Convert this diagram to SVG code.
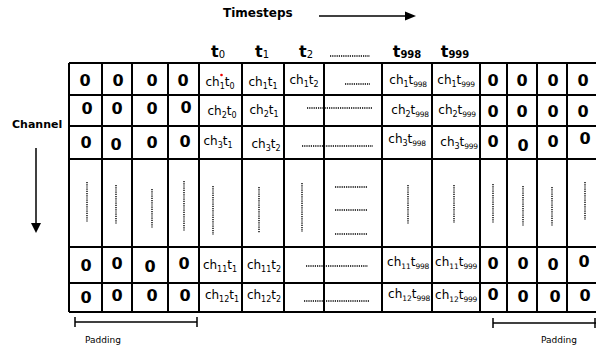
<svg xmlns="http://www.w3.org/2000/svg" width="596" height="350" viewBox="0 0 596 350">
<defs>
<style>
.grid{stroke:#000;stroke-width:2;fill:none}
.z{font-family:"DejaVu Sans",Verdana,sans-serif;font-weight:bold;font-size:16px;text-anchor:middle;fill:#000}
.c{font-family:"DejaVu Sans",Verdana,sans-serif;font-size:12px;text-anchor:middle;fill:#000}
.s3{font-size:7.5px;letter-spacing:-0.3px}
.h{font-family:"DejaVu Sans",Verdana,sans-serif;font-size:16px;font-weight:bold;text-anchor:middle;fill:#000}
.lbl{font-family:"DejaVu Sans",Verdana,sans-serif;font-weight:bold;fill:#000}
.pad{font-family:"DejaVu Sans",Verdana,sans-serif;font-size:9px;fill:#000}
.dot{stroke:#000;stroke-width:1.4;stroke-dasharray:1.2 1;fill:none}
.ln{stroke:#000;stroke-width:1.5;fill:none}
</style>
</defs>
<rect width="596" height="350" fill="#fff"/>

<g id="labels">
<text class="lbl" x="223" y="17" font-size="12">Timesteps</text>
<text class="lbl" x="12" y="128" font-size="11">Channel</text>
<text class="pad" x="85" y="343">Padding</text>
<text class="pad" x="541" y="343">Padding</text>
</g>

<g id="connectors">
<line class="ln" x1="319" y1="16" x2="406" y2="16"/>
<polygon points="405,11.5 416,16 405,20.5" fill="#000"/>
<line class="ln" x1="36" y1="148" x2="36" y2="224"/>
<polygon points="31,223 41,223 36,233" fill="#000"/>
<line class="ln" x1="75" y1="322" x2="197" y2="322"/>
<line class="ln" x1="75" y1="317" x2="75" y2="327"/>
<line class="ln" x1="197" y1="317" x2="197" y2="327"/>
<line class="ln" x1="493" y1="323" x2="596" y2="323"/>
<line class="ln" x1="493" y1="318" x2="493" y2="328"/>
<line class="ln" x1="595" y1="318" x2="595" y2="328"/>
</g>

<g id="headers">
<text class="h" x="218" y="57">t<tspan font-size="10" font-weight="normal" dy="1">0</tspan></text>
<text class="h" x="262" y="57">t<tspan font-size="10" font-weight="normal" dy="1">1</tspan></text>
<text class="h" x="306" y="57">t<tspan font-size="10" font-weight="normal" dy="1">2</tspan></text>
<line class="dot" x1="330" y1="56" x2="370" y2="56"/>
<text class="h" x="407" y="57">t<tspan font-size="10" dy="1">998</tspan></text>
<text class="h" x="455" y="57">t<tspan font-size="10" dy="1">999</tspan></text>
</g>

<g id="grid">
<path class="grid" d="M69,63 H598 M69,95 H598 M69,126 H598 M69,159 H598 M69,247 H598 M69,283 H598 M69,312 H598"/>
<path class="grid" d="M69,63 V312 M102,63 V312 M132,63 V312 M168,63 V312 M199,63 V312 M242,63 V312 M284,63 V312 M324,63 V312 M382,63 V312 M432,63 V312 M480,63 V312 M507,63 V312 M537,63 V312 M567,63 V312"/>
</g>

<g id="row1">
<text class="z" x="85" y="86">0</text><text class="z" x="118" y="86">0</text><text class="z" x="152" y="86">0</text><text class="z" x="183" y="86">0</text>
<text class="c" x="220" y="86">ch<tspan font-size="8" dy="3">1</tspan><tspan dy="-3">t</tspan><tspan font-size="8" dy="3">0</tspan></text>
<circle cx="221.5" cy="75" r="1.3" fill="#e00"/>
<text class="c" x="263" y="86">ch<tspan font-size="8" dy="3">1</tspan><tspan dy="-3">t</tspan><tspan font-size="8" dy="3">1</tspan></text>
<text class="c" x="304" y="84">ch<tspan font-size="8" dy="3">1</tspan><tspan dy="-3">t</tspan><tspan font-size="8" dy="3">2</tspan></text>
<line class="dot" x1="345" y1="84" x2="370" y2="84"/>
<text class="c" x="408" y="84">ch<tspan font-size="8" dy="3">1</tspan><tspan dy="-3">t</tspan><tspan class="s3" dy="3">998</tspan></text>
<text class="c" x="456" y="84">ch<tspan font-size="8" dy="3">1</tspan><tspan dy="-3">t</tspan><tspan class="s3" dy="3">999</tspan></text>
<text class="z" x="493" y="86">0</text><text class="z" x="522" y="86">0</text><text class="z" x="553" y="86">0</text><text class="z" x="583" y="86">0</text>
</g>

<g id="row2">
<text class="z" x="87" y="114">0</text><text class="z" x="117" y="114">0</text><text class="z" x="152" y="114">0</text><text class="z" x="186" y="113">0</text>
<text class="c" x="222" y="115">ch<tspan font-size="8" dy="3">2</tspan><tspan dy="-3">t</tspan><tspan font-size="8" dy="3">0</tspan></text>
<text class="c" x="264" y="114">ch<tspan font-size="8" dy="3">2</tspan><tspan dy="-3">t</tspan><tspan font-size="8" dy="3">1</tspan></text>
<line class="dot" x1="307" y1="108" x2="372" y2="108"/>
<text class="c" x="410" y="114">ch<tspan font-size="8" dy="3">2</tspan><tspan dy="-3">t</tspan><tspan class="s3" dy="3">998</tspan></text>
<text class="c" x="457" y="114">ch<tspan font-size="8" dy="3">2</tspan><tspan dy="-3">t</tspan><tspan class="s3" dy="3">999</tspan></text>
<text class="z" x="493" y="117">0</text><text class="z" x="522" y="117">0</text><text class="z" x="553" y="117">0</text><text class="z" x="583" y="117">0</text>
</g>

<g id="row3">
<text class="z" x="86" y="148">0</text><text class="z" x="116" y="150">0</text><text class="z" x="152" y="148">0</text><text class="z" x="185" y="147">0</text>
<text class="c" x="218" y="145">ch<tspan font-size="8" dy="3">3</tspan><tspan dy="-3">t</tspan><tspan font-size="8" dy="3">1</tspan></text>
<text class="c" x="266" y="148">ch<tspan font-size="8" dy="3">3</tspan><tspan dy="-3">t</tspan><tspan font-size="8" dy="3">2</tspan></text>
<line class="dot" x1="302" y1="146" x2="373" y2="146"/>
<text class="c" x="407" y="143">ch<tspan font-size="8" dy="3">3</tspan><tspan dy="-3">t</tspan><tspan class="s3" dy="3">998</tspan></text>
<text class="c" x="459" y="146">ch<tspan font-size="8" dy="3">3</tspan><tspan dy="-3">t</tspan><tspan class="s3" dy="3">999</tspan></text>
<text class="z" x="493" y="147">0</text><text class="z" x="523" y="151">0</text><text class="z" x="553" y="147">0</text><text class="z" x="585" y="144">0</text>
</g>

<g id="row4">
<path class="dot" d="M87,182 V222 M116,185 V224 M152,189 V228 M184,181 V231 M213,186 V235 M259,187 V233 M302,183 V232 M408,185 V224 M454,185 V223 M493,184 V223 M523,186 V226 M552,187 V226 M585,182 V220"/>
<path class="dot" d="M335,187 H368 M335,210 H368 M335,234 H368"/>
</g>

<g id="row5">
<text class="z" x="86" y="271">0</text><text class="z" x="117" y="269">0</text><text class="z" x="150" y="272">0</text><text class="z" x="184" y="269">0</text>
<text class="c" x="220" y="269">ch<tspan font-size="8" dy="3">11</tspan><tspan dy="-3">t</tspan><tspan font-size="8" dy="3">1</tspan></text>
<text class="c" x="264" y="269">ch<tspan font-size="8" dy="3">11</tspan><tspan dy="-3">t</tspan><tspan font-size="8" dy="3">2</tspan></text>
<line class="dot" x1="306" y1="266" x2="368" y2="266"/>
<text class="c" x="408" y="266">ch<tspan font-size="7.5" dy="3">11</tspan><tspan dy="-3">t</tspan><tspan class="s3" dy="3">998</tspan></text>
<text class="c" x="456" y="266">ch<tspan font-size="7.5" dy="3">11</tspan><tspan dy="-3">t</tspan><tspan class="s3" dy="3">999</tspan></text>
<text class="z" x="493" y="269">0</text><text class="z" x="523" y="269">0</text><text class="z" x="553" y="270">0</text><text class="z" x="584" y="267">0</text>
</g>

<g id="row6">
<text class="z" x="86" y="303">0</text><text class="z" x="117" y="301">0</text><text class="z" x="152" y="301">0</text><text class="z" x="185" y="301">0</text>
<text class="c" x="222" y="299">ch<tspan font-size="8" dy="3">12</tspan><tspan dy="-3">t</tspan><tspan font-size="8" dy="3">1</tspan></text>
<text class="c" x="264" y="299">ch<tspan font-size="8" dy="3">12</tspan><tspan dy="-3">t</tspan><tspan font-size="8" dy="3">2</tspan></text>
<line class="dot" x1="304" y1="301" x2="369" y2="301"/>
<text class="c" x="409" y="298">ch<tspan font-size="7.5" dy="3">12</tspan><tspan dy="-3">t</tspan><tspan class="s3" dy="3">998</tspan></text>
<text class="c" x="456" y="299">ch<tspan font-size="7.5" dy="3">12</tspan><tspan dy="-3">t</tspan><tspan class="s3" dy="3">999</tspan></text>
<text class="z" x="493" y="300">0</text><text class="z" x="523" y="302">0</text><text class="z" x="555" y="302">0</text><text class="z" x="585" y="301">0</text>
</g>
</svg>
